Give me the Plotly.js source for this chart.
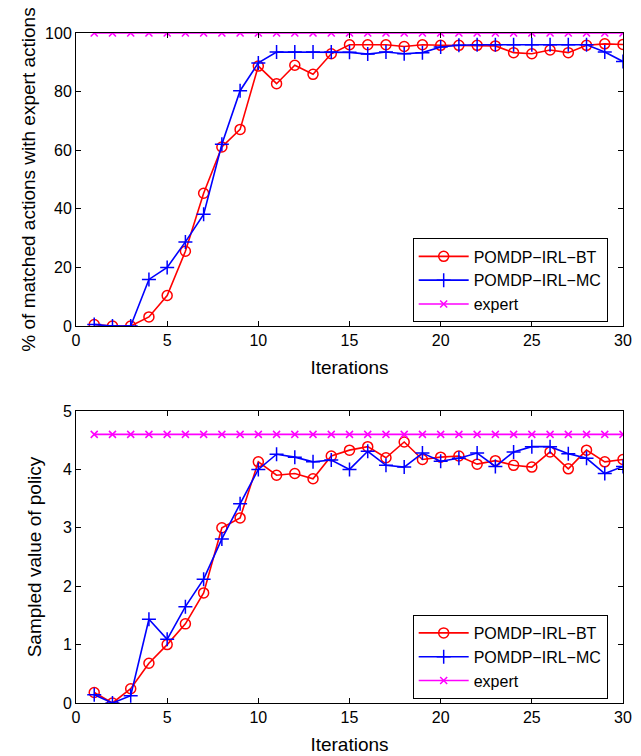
<!DOCTYPE html>
<html>
<head>
<meta charset="utf-8">
<script src="https://cdn.plot.ly/plotly-3.0.1.min.js"></script>
<style>html,body{margin:0;padding:0;background:#fff;}#chart{width:641px;height:756px;}</style>
</head>
<body>
<div id="chart"></div>
<script>
const iterations = [1,2,3,4,5,6,7,8,9,10,11,12,13,14,15,16,17,18,19,20,21,22,23,24,25,26,27,28,29,30];
const matchBT = [0.5,0,0,3.1,10.4,25.5,45.3,61.1,67.1,88.7,82.7,89.0,85.9,92.9,96.0,96.0,96.0,95.4,96.0,95.8,95.8,95.8,95.6,93.3,92.9,94.2,93.3,95.8,96.3,96.1];
const matchMC = [0.5,0,0,15.9,20.0,28.7,38.1,62.0,80.3,89.8,93.5,93.5,93.5,93.5,93.4,92.8,93.5,92.9,93.3,95.2,95.8,96.0,96.0,96.0,96.0,96.0,96.0,96.0,93.5,90.3];
const matchExpert = [100,100,100,100,100,100,100,100,100,100,100,100,100,100,100,100,100,100,100,100,100,100,100,100,100,100,100,100,100,100];
const valueBT = [0.18,0,0.245,0.68,1.0,1.355,1.885,3.0,3.17,4.13,3.90,3.93,3.84,4.23,4.33,4.39,4.20,4.47,4.17,4.21,4.23,4.09,4.15,4.07,4.04,4.30,4.01,4.33,4.13,4.17];
const valueMC = [0.14,0,0.125,1.435,1.09,1.65,2.12,2.81,3.41,4.0,4.26,4.21,4.13,4.16,4.0,4.31,4.07,4.04,4.28,4.14,4.19,4.28,4.05,4.30,4.39,4.39,4.27,4.19,3.93,4.05];
const valueExpert = [4.6,4.6,4.6,4.6,4.6,4.6,4.6,4.6,4.6,4.6,4.6,4.6,4.6,4.6,4.6,4.6,4.6,4.6,4.6,4.6,4.6,4.6,4.6,4.6,4.6,4.6,4.6,4.6,4.6,4.6];
const seriesNames = ['POMDP\u2212IRL\u2212BT','POMDP\u2212IRL\u2212MC','expert'];
const xTicks = [0,5,10,15,20,25,30];

const styles = [
  {color:'#ff0000', symbol:'circle-open', size:10},
  {color:'#0000ff', symbol:'cross-thin-open', size:10},
  {color:'#ff00ff', symbol:'x-thin-open', size:7}
];

function mk(y, i, xa, ya, leg, show) {
  const s = styles[i];
  return {
    x: iterations, y: y, type:'scatter', mode:'lines+markers', name: seriesNames[i],
    xaxis: xa, yaxis: ya, legend: leg, showlegend: show,
    line:{color:s.color, width:1.6},
    marker:{symbol:s.symbol, size:s.size, color:s.color, line:{color:s.color, width:1.5}}
  };
}

const traces = [
  mk(matchBT,0,'x','y','legend',true),
  mk(matchMC,1,'x','y','legend',true),
  mk(matchExpert,2,'x','y','legend',true),
  mk(valueBT,0,'x2','y2','legend2',true),
  mk(valueMC,1,'x2','y2','legend2',true),
  mk(valueExpert,2,'x2','y2','legend2',true)
];

const font = {family:'Liberation Sans, Arial, sans-serif', size:16, color:'#000'};
const axBase = {
  showline:true, mirror:'ticks', linecolor:'#000', linewidth:1,
  ticks:'inside', ticklen:5, tickcolor:'#000', tickwidth:1,
  showgrid:false, zeroline:false, tickfont:{size:16, color:'#000'}
};
const legBase = {
  bgcolor:'#fff', bordercolor:'#000', borderwidth:1,
  font:{size:16, color:'#000'}, xanchor:'right', yanchor:'bottom', itemwidth:50,
  tracegroupgap:0
};

const layout = {
  width:641, height:756,
  margin:{l:76, r:18, t:33, b:53},
  paper_bgcolor:'#fff', plot_bgcolor:'#fff',
  font: font,
  xaxis: Object.assign({}, axBase, {domain:[0,1], anchor:'y', range:[0,30], tickvals:xTicks,
    title:{text:'Iterations', font:{size:19}, standoff:12}}),
  yaxis: Object.assign({}, axBase, {domain:[0.5627,1], anchor:'x', range:[0,100], tickvals:[0,20,40,60,80,100],
    title:{text:'% of matched actions with expert actions', font:{size:19}, standoff:4}}),
  xaxis2: Object.assign({}, axBase, {domain:[0,1], anchor:'y2', range:[0,30], tickvals:xTicks,
    title:{text:'Iterations', font:{size:19}, standoff:12}}),
  yaxis2: Object.assign({}, axBase, {domain:[0,0.4358], anchor:'x2', range:[0,5], tickvals:[0,1,2,3,4,5],
    title:{text:'Sampled value of policy', font:{size:19}, standoff:16}}),
  legend: Object.assign({}, legBase, {x:0.972, y:0.568}),
  legend2: Object.assign({}, legBase, {x:0.972, y:0.006})
};

Plotly.newPlot('chart', traces, layout, {displayModeBar:false, staticPlot:true});
</script>
</body>
</html>
